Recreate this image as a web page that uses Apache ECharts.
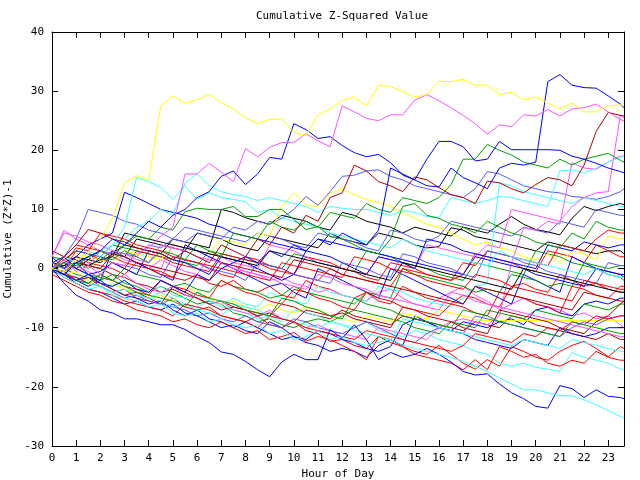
<!DOCTYPE html>
<html>
<head>
<meta charset="utf-8">
<script src="https://cdn.jsdelivr.net/npm/echarts@6/dist/echarts.min.js"></script>
<style>
  html, body { margin: 0; padding: 0; background: #fff; }
  #chart { width: 640px; height: 480px; }
</style>
</head>
<body>
<div id="chart"></div>
<script>
// half-hour sample points, last one is where the data stops
const hours = [0, 0.5, 1, 1.5, 2, 2.5, 3, 3.5, 4, 4.5, 5, 5.5, 6, 6.5, 7, 7.5,
  8, 8.5, 9, 9.5, 10, 10.5, 11, 11.5, 12, 12.5, 13, 13.5, 14, 14.5, 15, 15.5,
  16, 16.5, 17, 17.5, 18, 18.5, 19, 19.5, 20, 20.5, 21, 21.5, 22, 22.5, 23, 23.5, 23.65]
const hourTicks = [0, 1, 2, 3, 4, 5, 6, 7, 8, 9, 10, 11, 12, 13, 14, 15, 16, 17, 18, 19, 20, 21, 22, 23]
const valueTicks = [-30, -20, -10, 0, 10, 20, 30, 40]

const yellowTop = [0, -0.5, 1.5, 2.5, 5, 8.5, 14.5, 15.7,
  15.0, 27.5, 29.2, 28, 28.5, 29.5, 28, 27,
  25.5, 24.5, 25.2, 25.3, 23, 22.5, 26, 27,
  28.4, 29, 27.5, 31, 30.8, 29.9, 29, 29.4,
  31.7, 31.6, 32, 31, 31, 29.4, 29.8, 28.5,
  29, 28, 27, 28, 26.5, 26.5, 27.5, 27.7, 27.5]
const magentaTop = [0, 1.5, -0.5, 0.5, -1, 1, 0.5, 2.5,
  3.5, 5.5, 7, 16, 16, 17.8, 16.3, 14.7,
  20.3, 18.9, 20.5, 21.3, 21.3, 22.8, 21.6, 20.6,
  27.5, 26.5, 25.4, 25, 26, 26, 28.5, 29.4,
  28.4, 27.2, 25.9, 24.5, 22.7, 24.3, 24, 26,
  25.8, 26.9, 25.8, 27, 27.2, 27.8, 26.5, 25.2, 25]
const blueA = [0, -1, 1, 2, 3, 5, 4, 6,
  8, 7, 9, 10, 12, 13, 15.6, 16.5,
  14.2, 16, 18.8, 18.5, 24.5, 23.5, 22, 22.3,
  20.8, 19.6, 18.9, 19.3, 17.9, 15.8, 15, 18.5,
  21.5, 21.5, 20.6, 18.2, 18.5, 21.5, 20.1, 20.1,
  20.1, 20.1, 20, 19, 18.5, 17.8, 17, 16.4, 16.2]
const blueB = [0, -1, -2, -1, -2.5, -3, -2, -3.5,
  -4, -2, -3, -4, -1, -2, 0, 1,
  2, 1, 3, 2, 4, 3, 5, 4,
  6, 5, 4, 6.5, 17, 16, 15, 14,
  13.8, 17, 15.4, 14.5, 13.5, 17, 17.8, 17.5,
  18, 31.6, 32.8, 31, 30.6, 30.5, 29.2, 27.8, 27.2]
const darkRedA = [0, 2, 4, 6.6, 6, 5, 4.5, 3.5,
  3, 2.5, 1.5, 3, 2, 1, 4, 3,
  2, 5, 4, 7, 6, 9, 8, 12,
  12.8, 17.5, 16.5, 14.7, 14, 13, 15.5, 15,
  13.7, 12.5, 12, 11, 14.8, 14.5, 13.5, 12.8,
  14.2, 15.4, 15, 14, 17.5, 23.2, 26.4, 25.9, 25.8]
const greenC = [0, -1, 1, 0, 2, 1.5, 3, 2,
  1, 3, 2.5, 1.5, 4, 3, 2, 6,
  5.5, 5, 8, 7, 6.5, 8, 7, 9.5,
  9, 8.5, 11, 10, 9.5, 12, 11.5, 11,
  12, 14.2, 18.5, 18.5, 21, 20, 19.2, 18,
  17.5, 17, 18.5, 17.5, 18.5, 19, 19.5, 18.3, 18]
const greenD = [0, 1, 0.5, 2, 3, 2, 4, 5.5,
  5, 7, 6.5, 9.6, 10.2, 10, 10, 10.5,
  8.8, 8.8, 10, 10, 8.3, 6.6, 7.1, 5.4,
  5, 4, 3, 2.5, 5, 10.5, 11, 9,
  8.5, 7.5, 7, 6, 8, 7, 6, 5.5,
  4.5, 4, 3.5, 6, 5, 8, 7, 6.5, 6.5]
const cyanA = [0, 1, 0.5, 2, 3, 4, 7, 15.4,
  14.7, 13.7, 11.7, 14, 11.7, 12.8, 12, 11.7,
  11.3, 9.5, 10, 8.6, 8, 7.5, 7, 6,
  5.5, 5, 4.5, 4, 3.5, 5, 4, 3,
  2.5, 2, 1.5, 1, 0.5, 3, 2, 1.5,
  1, 0.5, 0, -0.5, -1, 0, -1, -1.5, -1.5]
const cyanB = [0, 2, 1, 3, 2, 4, 5, 7,
  8, 10, 9, 14.5, 16, 14, 13, 12.5,
  12.2, 11.5, 12, 11.5, 11, 10.5, 9.5, 10.5,
  10.2, 10, 10, 9.5, 9, 9.8, 9.5, 8.8,
  8.6, 12, 11.5, 11, 11.5, 12.2, 12, 11.5,
  11, 10.5, 16.5, 16.7, 16.2, 17, 18, 18.8, 19]
const blueBottom = [0, -2.5, -4.5, -5.5, -7, -7.5, -8.5, -8.5,
  -9, -9.5, -9.5, -10.3, -11.5, -12.5, -14.1, -14.5,
  -15.7, -17.1, -18.3, -15.8, -14.5, -15.4, -15.4, -10.3,
  -11.8, -9.5, -12, -15.4, -14.2, -15, -14.5, -13.5,
  -14.5, -15.8, -17.4, -18, -17.8, -19.5, -21, -22,
  -23.3, -23.6, -19.8, -20.3, -21.8, -20.5, -21.6, -21.8, -22]
const cyanBottom = [0, -1.5, -2.5, -3.5, -3, -4.5, -5, -5.5,
  -6.5, -6, -7.5, -8, -7.5, -9, -8.5, -9.5,
  -10, -9.5, -11, -10.5, -12, -11.5, -10.5, -12,
  -11.5, -12.5, -13, -12.5, -12, -13, -13.5, -14,
  -14.5, -15, -15.7, -16.5, -17.4, -18.5, -19.5, -20.5,
  -20.5, -21, -21.5, -21.5, -22.2, -23, -24, -25, -25.2]
const black1 = [1, 0.5, 2, 1.5, 3, 2.5, 4, 3.5,
  3, 2.5, 5, 4.5, 4, 3.5, 10, 9.5,
  8.6, 8, 7.5, 9, 8.5, 8, 7, 6.5,
  9.5, 9, 8, 7.5, 7, 6, 7, 6.5,
  6, 5.5, 7, 6.5, 6, 7.5, 8.8, 7.5,
  6.6, 6.2, 5.7, 8.5, 10.5, 9.8, 10.5, 11, 10.8]
const black2 = [0, 1, 0, 1.5, 1, 2.5, 2, 5,
  4.5, 4, 3.5, 3, 6, 5.5, 5, 4,
  3.5, 3, 5.5, 5, 4.5, 4, 3.5, 6,
  5, 4.5, 4, 6, 5.5, 5, 4, 3.5,
  3.7, 6.9, 6.5, 5.4, 5, 4.5, 4, 3.5,
  3, 4.5, 4, 3.5, 3, 2.5, 3, 3, 2.5]
const black30 = [0, 0.5, 1, 0.5, 1.5, 2, 6, 5.5,
  5, 4.5, 4, 3.5, 3, 2.5, 2, 1.5,
  1, 0.5, 3, 2.5, 2, 1.5, 1, 0.5,
  0, -0.5, -1, -1.5, -2, 1, 0.5, 0,
  -0.5, -1, -1.5, -2, -2.5, -3, -3.5, 0,
  -0.5, -1, -1.5, -2, -2.5, -3, -3.5, -4, -4]
const green3 = [2, 1.5, 3, 2.5, 2, 4, 3.5, 3,
  2.5, 2, 1.5, 1, 0.5, 3, 2.5, 2,
  1.5, 1, 0.5, 0, 2.5, 2, 1, 0.5,
  0, -0.5, 3, 2.5, 2, 1, 0.5, 0,
  -1, -1.5, -2, 1, 0.5, 0, -0.5, -1,
  3, 2.5, 2, 1, 0.5, 0, -1, -1.5, -2]
const red4 = [0, -1, -2, -1.5, -3, -4, -3.5, -5,
  -5.5, -6, -5, -6.5, -7, -6.5, -8, -8.5,
  -9, -8, -9.5, -10, -9, -10.5, -11, -12.3,
  -12, -13, -13.5, -11.5, -12, -13.2, -14, -14.5,
  -13, -14.5, -16, -17, -15.4, -16.5, -13.2, -14,
  -15, -15.5, -14, -13, -12.3, -13.5, -14.9, -13.2, -13.5]
const red5 = [1, 0, 2, 1, 0.5, 0, -1, 1,
  0, -0.5, -1.5, -2, -1, -2.5, -3, -2,
  -3.5, -4, -3, -4.5, -5, -2, -3, -3.5,
  -4.5, -5, -4, -5.5, -6, -3, -4, -5,
  -5.5, -6, -4.5, -5, -6, -6.5, -3, -2.5,
  -3.5, -4, -1, -2, -3, -2.5, -3.5, -4, -4]
const darkRed6 = [3, 2, 1.5, 0.5, 0, -1, -1.5, -2.5,
  -3, -4, -3.5, -4.5, -5, -6, -5.5, -6.5,
  -7, -7.5, -8, -6, -6.5, -7.5, -8, -8.5,
  -7, -8, -8.5, -9, -9.5, -8, -8.5, -9,
  -9.5, -10, -10.5, -9, -9.5, -10, -8, -8.5,
  -9.5, -10, -10.5, -11, -11.5, -12, -11, -12, -12]
const cyan7 = [0, -0.5, -1.5, -2, -3, -2.5, -3.5, -4.5,
  -5, -4, -5, -6, -6.5, -5.5, -6.5, -7,
  -7.5, -8.5, -8, -9, -7, -7.5, -8, -9,
  -9.5, -10, -9, -10.5, -11, -11.5, -10.5, -11,
  -12, -12.5, -13, -14, -14.5, -16, -16.5, -16,
  -16.7, -17, -17.4, -14.2, -15, -15.5, -16, -17, -17]
const magenta8 = [2, 6.5, 5, 4, 3, 2.5, 1.5, 1,
  0, 1.5, 0.5, -0.5, -1, 2, 1, 0.5,
  -0.5, -1, -2, -1.5, -2.5, -3, -4, -3.5,
  -4.5, -5, -5.5, -4, -3.5, -5, -6, -6.5,
  -5, -4, -3, -4.5, -5.5, -7, -6, -5,
  -6, -6.5, -7, -8, -7.5, -8.5, -8, -9.5, -10]
const blue9 = [0, -1, -2.5, -3.5, -4, -5, -6, -5.5,
  -6.5, -7, -6, -7.5, -8, -9, -10, -9.5,
  -10.5, -11, -9, -10, -11.5, -12, -10.5, -11,
  -12, -12.5, -13.5, -14, -13.2, -9.5, -8.5, -9,
  -10, -10.5, -9, -9.5, -10, -9, -8.5, -9.5,
  -7, -6.5, -7.5, -8, -6, -5.5, -6, -5, -5]
const lightBlue10 = [0, 2, 5, 10, 9.5, 9, 8, 7.5,
  6.5, 6, 5, 7, 6.5, 6, 5.5, 5,
  4.5, 6, 5.5, 5, 4, 3.5, 6, 5.5,
  5, 4.5, 3.5, 3, 6.5, 6, 5, 4.5,
  5.5, 8, 7.5, 7, 6.5, 6, 5.5, 7,
  6.5, 6, 8, 7.5, 7, 10, 9.5, 9, 9]
const lightBlue11 = [0, 1, 0.5, 2, 1.5, 3, 2.5, 2,
  4, 3.5, 5, 4.5, 6, 5.5, 5, 7,
  6.5, 8, 7.5, 8.5, 10, 12.2, 10.7, 13,
  15.6, 15.8, 16.5, 16.7, 15.6, 15, 14, 13.5,
  13, 12.5, 12, 13.5, 16.4, 16, 15, 14,
  13.5, 13, 12.8, 12.2, 12, 11.7, 12.2, 13, 13.5]
const red12 = [0, 1.5, 3, 2.5, 1.5, 1, 0, 3,
  2.5, 2, 1, 0.5, 0, -0.5, 2.5, 2,
  1.5, 1, 0, -0.5, -1, 2, 1.5, 1,
  0, -0.5, -1.5, -2, 1, 0.5, 0, -1,
  -1.5, -2, -1, 2.5, 2, 1.5, 1, 0,
  -0.5, 3, 2.5, 2, 1, 4, 3, 2, 2]
const blue13 = [-0.5, -1, -2, -3, -2, -3.5, -4.5, -5,
  -6, -5.5, -7, -8, -7, -8.5, -9, -10,
  -9, -10, -11, -12, -11.5, -12.5, -13, -14,
  -13.5, -14, -15, -13, -12, -13, -8, -9,
  -10, -10.5, -11, -12, -12.5, -13, -13.5, -12,
  -12.5, -13, -10, -11, -11.5, -11, -10, -10, -10]
const green14 = [1, 0, -1, -1.5, -2, -1, -2.5, -3,
  -4, -3, -4, -5, -6, -5.5, -6, -7.5,
  -8, -9, -8.5, -9.5, -10, -9, -8.5, -9,
  -8, -7, -7.5, -8, -8.5, -9, -10, -10.5,
  -11, -9, -9.5, -10, -7, -7.5, -8, -8.5,
  -7, -7.5, -8, -8.5, -6, -6.5, -7, -6, -6]
const yellow15 = [0, -1, -0.5, -2, -3, -2.5, -3.5, -4,
  -5, -4.5, -5.5, -3, -4, -5, -6, -5.5,
  -6.5, -7, -6, -7, -7.5, -6.5, -7, -8,
  -8.5, -9, -8, -8.5, -9, -7.5, -8, -8.5,
  -7, -7.5, -8, -8.6, -8.8, -8.8, -8.8, -8.8,
  -8.8, -8.8, -8.8, -8.8, -8.8, -8.8, -8.8, -8.8, -8.8]
const yellow16 = [0, 1, 2.5, 2, 1.5, 1, 3, 2.5,
  2, 1.5, 4, 3.5, 3, 2.5, 5, 4.5,
  4, 6, 5.5, 10.5, 12.8, 10.8, 10.5, 12.8,
  13.4, 12.5, 11.7, 11.2, 10.5, 9.5, 8.5, 7.5,
  7, 6, 5, 4, 4.5, 3.5, 3, 2,
  1.5, 2.5, 1, 3, 2.5, 1.5, 5.5, 5, 5]
const cyan17 = [0, -1, -2, -1.5, -2.5, -3, -2, -3.5,
  -4, -3, -4.5, -5, -4, -5.5, -6, -5,
  -6, -6.5, -4, -5, -5.5, -6, -3, -4,
  -4.5, -5, -5.5, -3, -3.5, -4, -5, -5.5,
  -6, -6.5, -5, -3, -2.5, 14.5, 14, 13,
  12.5, 12, 11.5, 11, 12, 11.5, 11, 10.5, 10.5]
const magenta18 = [0, -1, 0.5, -0.5, -1.5, -2, -1, -2.5,
  -3.5, -4, -3, -4.5, -5, -6, -5.5, -7,
  -7.5, -8, -7, -8.5, -9, -10, -9.5, -10.5,
  -11, -11.5, -12, -10, -10.5, -11, -11.5, -12,
  -10, -9, -8.5, -9, -9.5, -8, 1, 6.9,
  6.5, 8, 7.5, 17.9, 17, 16.8, 18, 19, 19]
const magenta19 = [0, 2, 1, 0.5, 3, 2.5, 2, 1,
  0.5, 0, 4, 3.5, 3, 2.5, 2, 1,
  0.5, 0, 4, 3.5, 3, 2, 1, 0.5,
  0, -0.5, -1, 2, 1.5, 1, 0, 4,
  3.5, 3, 2.5, 2, 4, 3.5, 10, 9.5,
  9, 8.5, 8, 10.5, 12, 12.8, 13, 26, 25.5]
const red20 = [-1, -2, -3, -4, -4.5, -5.5, -6, -7,
  -7.5, -8, -9, -8.5, -9.5, -10, -9, -10,
  -11, -10.5, -12, -11.5, -10.8, -12.3, -11.5, -12,
  -13, -14, -15.4, -11.5, -12.5, -13.2, -14.5, -15,
  -15.5, -16, -17.1, -15.4, -17.1, -13.2, -14, -15,
  -14.5, -16, -16.5, -15.5, -16, -14, -15, -15.5, -15.5]
const blue21 = [2, 0, 1, -1, -2, 3, 2, 1,
  0, -1, -2, 4, 3, 2, 1, 0,
  -1, -2, -3, -2.5, -4, -5, 0, -1,
  -2, -3, -4, -5, 0, -1, -2, -3,
  -4, -5, -6, -3, -4, -5, -6, -1,
  -2, -3, -4, 2, 1, 0, -0.5, -1, -1]
const darkRed22 = [0, -0.5, -2, -1.5, -2.5, -3.5, -4.5, -4,
  -5, -6, -3, -4, -5, -6, -7, -6.5,
  -7, -8, -7.5, -8.5, -9, -7, -7.5, -8,
  -7.5, -8.5, -9, -9.5, -10, -6.5, -7, -8,
  -8.5, -9, -10, -10.5, -11, -7, -7.5, -8,
  -8.5, -9, -10, -10.5, -11, -9, -8, -6, -5.5]
const lightBlue23 = [0, -1, -1.5, -2.5, -3, -4, -5, -4.5,
  -5.5, -6, -6.5, -7, -8, -7.5, -8.5, -9,
  -8, -9, -9.5, -10, -8.5, -9, -10, -10.5,
  -11, -10, -9, -10, -11, -12, -12.5, -11,
  -10, -10.5, -11, -8, -8.5, -9, -9.5, -10,
  -10.5, -11, -11.5, -10, -9, -9.5, -8.5, -8, -8]
const green24 = [0, 1, 0, -1, -1.5, -2, 0, -1,
  -1.5, -2, -3, -2.5, -3.5, -4, -2, -3,
  -3.5, -4, -5, -4.5, -3, -4, -4.5, -5,
  -5.5, -6, -4, -4.5, -5, 0, -1, -1.5,
  -2, -2.5, -3, -4, -3.5, -4, -1, -1.5,
  -2, -3, -2.5, -3, 1, 0.5, 0, 0.5, 0.5]
const red25 = [0, 2, 4, 3.5, 3, 2, 1, 0.5,
  0, -1, -1.5, 1.5, 1, 0, -1, -1.5,
  2, 1.5, 0.5, 0, -1, -1.5, -2, 0,
  -1, -1.5, -2, -2.5, -3, 0, -0.5, -1,
  -1.5, -2, 1, 0.5, 3, 2.5, 2, 1.5,
  1, 0.5, 4, 3.5, 3, 5, 6.5, 6, 6]
const cyan26 = [0, -1, -2, -2.5, -3, -4, -3.5, -4.5,
  -5, -5.5, -6.5, -6, -7, -7.5, -8, -6,
  -6.5, -7, -8, -8.5, -9, -9.5, -10, -9,
  -9.5, -10.5, -11, -11.5, -12, -8.5, -9, -9.5,
  -10, -10.5, -11, -11.5, -12, -12.5, -13, -12,
  -12.5, -13, -13.5, -12, -12.5, -13, -13.5, -14, -14]
const blue27 = [1, 2, 0, -1, -0.5, 1, 0, -1,
  3, 2.5, 1.5, 1, 0, -1, 2, 1.5,
  1, 0, -1, -2, -1, 3, 2.5, 2,
  1, 0, -1, 2, 1.5, 1, 0, 5,
  4.5, 4, 3, 2.5, 2, 1.5, 1, 0.5,
  0, 4, 3.5, 3, 4.5, 4, 3.5, 4, 4]
const red28 = [0, -1.5, -2.5, -3.5, -4, -4.5, -5.5, -6,
  -6.5, -7, -8, -6, -6.5, -7, -8, -8.5,
  -9, -10, -8, -8.5, -9, -10, -10.5, -11,
  -11.5, -12, -10.5, -11, -11.5, -12, -12.5, -13,
  -13.5, -14, -13, -11, -11.5, -12, -12.5, -11,
  -11.5, -10, -10.5, -9, -9.5, -8, -8.5, -8, -8]
const blue29 = [0, 1, 2, 4, 5, 6, 12.9, 12,
  11, 10, 9.5, 9, 8.5, 7.5, 7, 6,
  5.5, 5, 4.5, 4, 3.5, 3, 5, 4.5,
  4, 3.5, 3, 2.5, 2, 1.5, 1, 0.5,
  0, -0.5, -1, 2, 1.5, 1, 0.5, 0,
  -1, -1.5, -2, -2.5, -3, 0, -0.5, -1, -1.5]
const red31 = [0, -1, -1.5, -2.5, -1, -2, -3, -3.5,
  -4.5, -2, -3, -3.5, -4.5, -5, -2, -3,
  -4, -4.5, -5.5, -6, -3.5, -4, -5, -5.5,
  -6.5, -7, -4, -5, -5.5, -6.5, -7, -7.5,
  -8, -6, -6.5, -7.5, -8, -4, -4.5, -5,
  -6, -6.5, -7.5, -3, -3.5, -4.5, -5, -3, -3]
const lightBlue32 = [1, 0, 3, 2.5, 2, 1, 0.5, 0,
  -1, -1.5, 2, 1.5, 1, 0, -0.5, -1,
  -2, 1, 0.5, 0, -1, -1.5, -2, -2.5,
  1, 0.5, 0, -1, -1.5, 2.5, 2, 1,
  0.5, 0, -1, -1.5, 3, 2.5, 2, 1,
  0.5, -0.5, -1, -1.5, -2, -2.5, 1, 0.5, 0.5]
const green33 = [0, -1, -2, -2.5, -1, -2, -3, -4,
  -4.5, -5, -5.5, -6.5, -4, -5, -5.5, -6,
  -7, -7.5, -8, -5, -5.5, -6.5, -7, -8,
  -8.5, -5, -6, -6.5, -7, -8, -8.5, -9,
  -9.5, -10, -7, -7.5, -8, -9, -9.5, -10,
  -10.5, -11, -11.5, -9, -9.5, -10, -10.5, -11, -11]
const magenta34 = [2, 6, 5.5, 4.5, 4, 3, 2.5, 1.5,
  1, 4, 3.5, 3, 2, 1.5, 1, 0,
  -0.5, -1, -1.5, -2.5, -3, -3.5, -1, -1.5,
  -2.5, -3, -3.5, -4.5, -5, -5.5, -6, -6.5,
  -7, -4, -4.5, -5.5, -6, -6.5, -7, -7.5,
  -8, -8.5, -9, -9.5, -10, -10.5, -11, -11.5, -11.5]
const red35 = [0, 1, 3.5, 3, 6, 5.5, 5, 4,
  3.5, 3, 2, 1.5, 1, 0.5, 0, -0.5,
  -1, -1.5, -2, 1, 0.5, 0, -0.5, -1,
  -1.5, 2, 1.5, 1, 0, -0.5, -1, -2,
  -2.5, -3, -3.5, -1, -1.5, -2, -3, -3.5,
  -4, -4.5, -5, -5.5, -2, -2.5, -3, -3.5, -3.5]
const darkRed36 = [0, -0.5, 1, 0.5, 0, 2.5, 2, 1,
  0.5, 0, -0.5, -1, -1.5, -2, 1, 0.5,
  0, -0.5, -1, -1.5, 1.5, 1, 0.5, 0,
  -1, -1.5, -2, -2.5, -3, -3.5, -4, -4.5,
  -5, -5.5, -6, -3, -3.5, -4, -4.5, -5,
  -5.5, -6, -6.5, -7, -4, -4.5, -5, -5.5, -5.5]

const BLUE = '#0000ff', LBLUE = '#5a5aff', RED = '#ff0000', DRED = '#b00000',
  GREEN = '#00a000', BLACK = '#000000', MAGENTA = '#ff50ff', CYAN = '#40ffff', YELLOW = '#ffff00'

const lines = [
  [black1, BLACK], [black2, BLACK], [green3, GREEN], [red4, RED], [red5, RED],
  [darkRed6, DRED], [cyan7, CYAN], [magenta8, MAGENTA], [blue9, BLUE], [lightBlue10, LBLUE],
  [lightBlue11, LBLUE], [red12, RED], [blue13, BLUE], [green14, GREEN], [yellow15, YELLOW],
  [yellow16, YELLOW], [cyan17, CYAN], [magenta18, MAGENTA], [magenta19, MAGENTA], [red20, RED],
  [blue21, BLUE], [darkRed22, DRED], [lightBlue23, LBLUE], [green24, GREEN], [red25, RED],
  [cyan26, CYAN], [blue27, BLUE], [red28, RED], [blue29, BLUE], [black30, BLACK],
  [red31, RED], [lightBlue32, LBLUE], [green33, GREEN], [magenta34, MAGENTA], [red35, RED],
  [darkRed36, DRED],
  [cyanA, CYAN], [cyanB, CYAN], [greenC, GREEN], [greenD, GREEN], [darkRedA, DRED],
  [blueBottom, BLUE], [cyanBottom, CYAN], [blueA, BLUE], [blueB, BLUE],
  [magentaTop, MAGENTA], [yellowTop, YELLOW],
]

const font = { fontFamily: 'DejaVu Sans Mono', fontSize: 11, color: '#000' }

const chart = echarts.init(document.getElementById('chart'))
const axisLine = { onZero: false, lineStyle: { color: '#000', width: 1 } }
const tick = { inside: true, length: 6, lineStyle: { color: '#000' } }

const option = {
  animation: false,
  backgroundColor: '#fff',
  title: {
    text: 'Cumulative Z-Squared Value',
    left: 337, top: 6, textAlign: 'center',
    textStyle: { ...font, fontWeight: 'normal' },
  },
  grid: { left: 52, right: 16, top: 32, bottom: 34, outerBoundsMode: 'none', containLabel: false },
  xAxis: [{
    type: 'value', min: 0, max: 23.65, interval: 1,
    name: 'Hour of Day', nameLocation: 'middle', nameGap: 21,
    nameTextStyle: font,
    axisLine, axisTick: tick, splitLine: { show: false },
    axisLabel: { ...font, margin: 7, formatter: v => hourTicks.includes(v) ? String(v) : '' },
  }, {
    type: 'value', min: 0, max: 23.65, interval: 1, position: 'top',
    axisLine, axisTick: tick, axisLabel: { show: false }, splitLine: { show: false },
  }],
  yAxis: [{
    type: 'value', min: -30, max: 40, interval: 10,
    name: 'Cumulative (Z*Z)-1', nameLocation: 'middle', nameGap: 35,
    nameTextStyle: font,
    axisLine, axisTick: tick, splitLine: { show: false },
    axisLabel: { ...font, margin: 8, formatter: v => valueTicks.includes(v) ? String(v) : '' },
  }, {
    type: 'value', min: -30, max: 40, interval: 10, position: 'right',
    axisLine, axisTick: tick, axisLabel: { show: false }, splitLine: { show: false },
  }],
  series: lines.map(([vals, color]) => ({
    type: 'line',
    data: hours.map((h, i) => [h, vals[i]]),
    showSymbol: false,
    lineStyle: { color, width: 1 },
    itemStyle: { color },
    silent: true,
  })),
}
chart.setOption(option)
</script>
</body>
</html>
